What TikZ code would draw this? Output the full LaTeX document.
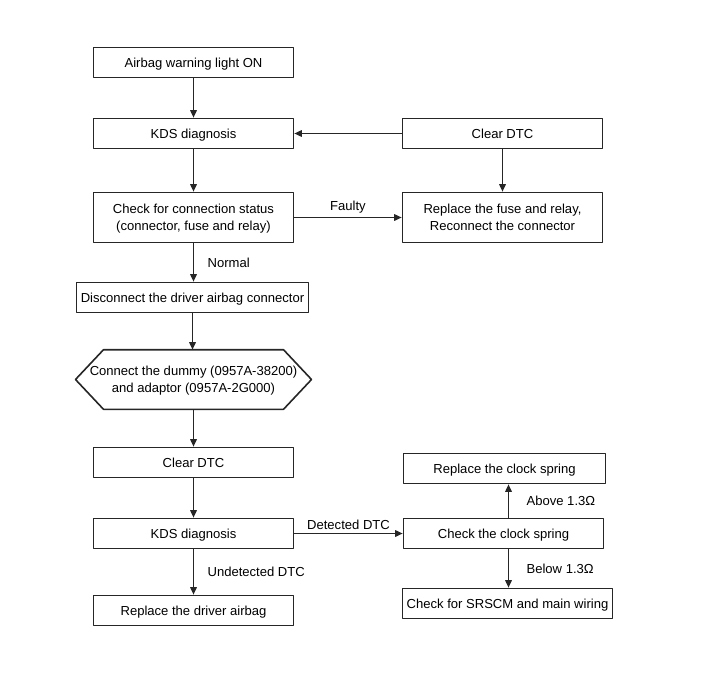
\documentclass[tikz,border=0pt]{standalone}
\usepackage{fontspec}
\setmainfont{Liberation Sans}
\usetikzlibrary{arrows.meta}
\begin{document}
\begin{tikzpicture}[x=1bp,y=-1bp,>={Triangle[length=7.5bp,width=6.5bp]},line join=round,line width=1.6bp,draw=black!85,font=\fontsize{13.1}{17}\selectfont,
	box/.style={draw,minimum width=200bp,minimum height=30bp,align=center,inner sep=2bp,text depth=0pt}]
	\useasboundingbox (0,0) rectangle (701,680);
	\node[box] (A) at (193.5,62.5) {Airbag warning light ON};
	\node[box] (K1) at (193.5,133.5) {KDS diagnosis};
	\node[box] (C1) at (502.5,133.5) {Clear DTC};
	\node[box,minimum height=50bp] (S) at (193.5,217.5) {Check for connection status\\(connector, fuse and relay)};
	\node[box,minimum height=50bp] (R) at (502.5,217.5) {Replace the fuse and relay,\\Reconnect the connector};
	\node[box,minimum width=232bp] (D) at (192.5,297.5) {Disconnect the driver airbag connector};
	\node[minimum height=58bp,inner sep=0pt,align=center,text depth=0pt] (H) at (193.5,379.5) {Connect the dummy (0957A-38200)\\and adaptor (0957A-2G000)};
	\draw ([xshift=-118bp]H.center) -- ([xshift=-90bp]H.north) -- ([xshift=90bp]H.north) -- ([xshift=118bp]H.center) -- ([xshift=90bp]H.south) -- ([xshift=-90bp]H.south) -- cycle;
	\node[box] (C2) at (193.5,462.5) {Clear DTC};
	\node[box] (K2) at (193.5,533.5) {KDS diagnosis};
	\node[box] (P) at (193.5,610.5) {Replace the driver airbag};
	\node[box,minimum width=202bp] (W) at (504.5,468.5) {Replace the clock spring};
	\node[box] (CS) at (503.5,533.5) {Check the clock spring};
	\node[box,minimum width=210bp] (M) at (507.5,603.5) {Check for SRSCM and main wiring};
	\draw[->] (A) -- (K1);
	\draw[->] (C1) -- (K1);
	\draw[->] (K1) -- (S);
	\draw[->] (C1) -- (R);
	\draw[->] (S) -- node[above]{Faulty} (R);
	\draw[->] (S.south) -- node[right,xshift=10bp]{Normal} (S.south |- D.north);
	\draw[->] (D.south) -- (D.south |- H.north);
	\draw[->] (H.south) -- (H.south |- C2.north);
	\draw[->] (C2) -- (K2);
	\draw[->] (K2) -- node[right,xshift=10bp]{Undetected DTC} (P);
	\draw[->] (K2) -- node[above]{Detected DTC} (CS);
	\draw[->] ([xshift=5bp]CS.north) -- node[right,xshift=14bp]{Above 1.3Ω} ([xshift=5bp]CS.north |- W.south);
	\draw[->] ([xshift=5bp]CS.south) -- node[right,xshift=14bp]{Below 1.3Ω} ([xshift=5bp]CS.south |- M.north);
\end{tikzpicture}
\end{document}
